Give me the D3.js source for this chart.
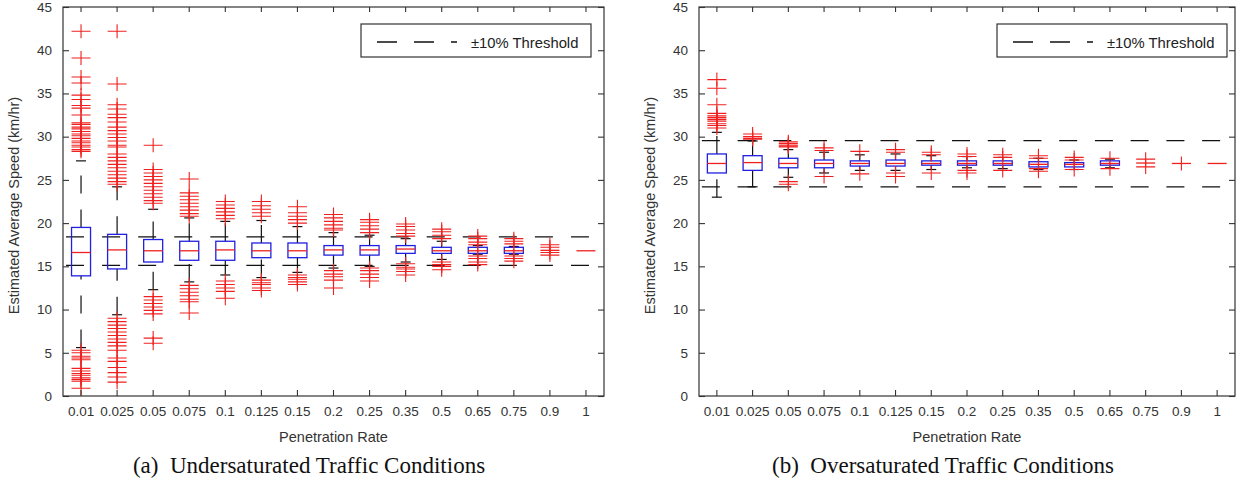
<!DOCTYPE html>
<html><head><meta charset="utf-8">
<script src="https://cdn.jsdelivr.net/npm/d3@7"></script>
<style>body{margin:0;background:#fff}</style>
</head><body>
<svg id="chart" width="1241" height="492"></svg>
<script>
const categories = ["0.01","0.025","0.05","0.075","0.1","0.125","0.15","0.2","0.25","0.35","0.5","0.65","0.75","0.9","1"];
const yTicks = [0,5,10,15,20,25,30,35,40,45];
const legendLabel = "±10% Threshold";
const xTitle = "Penetration Rate";
const yTitle = "Estimated Average Speed (km/hr)";
const captions = ["(a)\u00a0 Undersaturated Traffic Conditions", "(b)\u00a0 Oversaturated Traffic Conditions"];

// (a) Undersaturated
const underQ1     = [13.9,14.7,15.5,15.7,15.7,16.0,16.0,16.3,16.3,16.5,16.5,16.5,16.5,16.85,16.8];
const underMedian = [16.6,16.9,16.8,16.8,16.9,16.8,16.8,16.9,16.9,17.0,16.8,16.8,16.8,16.85,16.8];
const underQ3     = [19.5,18.7,18.1,17.9,17.9,17.7,17.7,17.4,17.4,17.4,17.2,17.2,17.2,16.85,16.8];
const underWhiskerHigh = [27.2,24.2,21.6,20.6,20.2,20.3,19.6,18.9,18.6,18.2,17.9,17.4,17.3,16.85,16.8];
const underWhiskerLow  = [5.6,9.4,12.3,13.2,14.0,13.7,14.3,14.8,15.0,15.5,15.8,16.4,16.4,16.85,16.8];
const underOutliers = [
  [42.2,39.1,36.9,36.2,34.8,34.3,33.6,33.3,32.5,31.6,31.4,31.1,30.9,30.6,30.3,30.1,29.8,29.5,29.3,29.0,28.8,28.5,28.3,5.3,5.0,4.6,4.4,4.2,3.2,2.9,2.6,2.4,2.1,1.9,1.7,0.9],
  [42.2,36.1,33.7,33.2,32.6,32.2,31.7,31.1,30.7,30.3,29.9,29.5,29.0,28.8,28.0,27.6,27.2,26.8,26.4,26.0,25.6,25.2,24.8,24.5,9.0,8.6,8.2,7.8,7.4,7.0,6.6,6.2,5.8,5.3,4.4,4.0,3.3,2.7,2.2,1.6],
  [29.0,26.2,25.8,25.4,25.0,24.6,24.2,23.8,23.4,23.0,22.6,22.3,11.5,11.1,10.7,10.3,9.9,9.5,6.7,6.1],
  [25.1,23.5,23.1,22.7,22.3,21.9,21.5,21.1,20.8,12.8,12.4,12.0,11.6,11.2,10.9,9.6],
  [22.5,22.1,21.7,21.3,20.9,20.5,13.3,12.9,12.5,12.1,11.3],
  [22.5,22.0,21.6,21.2,20.8,13.4,13.1,12.9,12.5,12.2],
  [21.9,21.2,20.8,20.4,20.0,14.0,13.7,13.5,13.2,12.9],
  [21.0,20.6,20.2,19.8,19.4,19.2,14.5,14.1,13.8,13.4,12.5],
  [20.4,20.1,19.7,19.3,18.9,14.8,14.5,14.1,13.7,13.3],
  [19.9,19.6,19.2,18.8,18.5,15.3,14.9,14.7,14.4,14.0],
  [19.3,19.0,18.6,18.2,15.5,15.2,15.0,14.6],
  [18.5,18.2,17.8,17.5,16.2,15.9,15.5,15.2],
  [18.2,17.9,17.6,16.2,15.9,15.6],
  [17.5,17.2,16.6,16.3],
  []
];
const underThreshold = [15.1, 18.4];

// (b) Oversaturated
const overQ1     = [25.8,26.1,26.4,26.4,26.6,26.6,26.7,26.7,26.7,26.5,26.5,26.7,26.95,26.9,26.9];
const overMedian = [26.9,27.0,26.9,26.9,26.9,26.9,26.9,26.9,26.9,26.8,26.8,26.9,26.95,26.9,26.9];
const overQ3     = [28.0,27.8,27.5,27.3,27.2,27.3,27.2,27.2,27.2,27.1,27.0,27.2,26.95,26.9,26.9];
const overWhiskerHigh = [30.5,29.5,28.5,28.2,27.9,28.0,27.8,27.7,27.6,27.5,27.3,27.4,26.95,26.9,26.9];
const overWhiskerLow  = [23.0,24.2,25.3,25.8,26.1,26.1,26.2,26.4,26.3,26.2,26.2,26.4,26.95,26.9,26.9];
const overOutliers = [
  [36.6,35.6,33.7,32.7,32.4,32.2,32.0,31.8,31.5,31.3,31.0],
  [30.3,30.0,29.8,29.7],
  [29.4,29.2,29.0,28.9,28.8,24.8,24.5],
  [28.7,28.4,25.4],
  [28.3,25.7],
  [28.5,28.2,25.8,25.4],
  [28.2,27.9,25.8],
  [28.0,27.7,26.1,25.8],
  [27.9,27.6,26.1],
  [27.8,27.5,26.3,26.0],
  [27.6,27.3,26.2],
  [27.5,26.3],
  [27.4,26.5],
  [26.9],
  []
];
const overThreshold = [24.2, 29.55];

const svg = d3.select("#chart");
svg.append("rect").attr("width",1241).attr("height",492).attr("fill","#fff");

const FONT = "'Liberation Sans', Arial, sans-serif";
const AXIS = "#333";
const BLUE = "#2020e0";
const RED = "#f02020";

function drawPanel(p) {
  const g = svg.append("g");
  const top = 7, bottom = 396;
  const x = d3.scaleBand().domain(categories).range([p.left, p.right]);
  const step = x.step();
  const cx = c => x(c) + x.bandwidth() / 2;
  const y = d3.scaleLinear().domain([0, 45]).range([bottom, top]);
  const bw = 19, cap = 10, hw = 9.5, hh = 7;

  p.threshold.forEach(t => {
    g.append("line").attr("x1", p.left).attr("x2", p.right)
      .attr("y1", y(t)).attr("y2", y(t))
      .attr("stroke", "#111").attr("stroke-width", 1.3)
      .attr("stroke-dasharray", `18 ${step - 18}`)
      .attr("stroke-dashoffset", 15 - step / 2);
  });

  categories.forEach((c, i) => {
    const xc = cx(c);
    const q1 = p.q1[i], q3 = p.q3[i], lo = p.wlo[i], hi = p.whi[i];
    if (hi > q3) {
      g.append("line").attr("x1", xc).attr("x2", xc).attr("y1", y(q3)).attr("y2", y(hi))
        .attr("stroke", "#111").attr("stroke-width", 1.2).attr("stroke-dasharray", "18 16");
      g.append("line").attr("x1", xc - cap/2).attr("x2", xc + cap/2).attr("y1", y(hi)).attr("y2", y(hi))
        .attr("stroke", "#111").attr("stroke-width", 1.2);
    }
    if (lo < q1) {
      g.append("line").attr("x1", xc).attr("x2", xc).attr("y1", y(lo)).attr("y2", y(q1))
        .attr("stroke", "#111").attr("stroke-width", 1.2).attr("stroke-dasharray", "18 16");
      g.append("line").attr("x1", xc - cap/2).attr("x2", xc + cap/2).attr("y1", y(lo)).attr("y2", y(lo))
        .attr("stroke", "#111").attr("stroke-width", 1.2);
    }
    if (q3 > q1) {
      g.append("rect").attr("x", xc - bw/2).attr("y", y(q3)).attr("width", bw)
        .attr("height", y(q1) - y(q3)).attr("fill", "none")
        .attr("stroke", BLUE).attr("stroke-width", 1.3);
    }
    g.append("line").attr("x1", xc - bw/2).attr("x2", xc + bw/2)
      .attr("y1", y(p.med[i])).attr("y2", y(p.med[i]))
      .attr("stroke", RED).attr("stroke-width", 1.3);
    p.out[i].forEach(v => {
      const yy = y(v);
      g.append("path")
        .attr("d", `M${xc - hw},${yy}H${xc + hw}M${xc},${yy - hh}V${yy + hh}`)
        .attr("stroke", RED).attr("stroke-width", 1.1).attr("fill", "none");
    });
  });

  g.append("rect").attr("x", p.left).attr("y", top).attr("width", p.right - p.left)
    .attr("height", bottom - top).attr("fill", "none").attr("stroke", AXIS).attr("stroke-width", 1.2);

  const ax = g.append("g").attr("transform", `translate(0,${bottom})`)
    .call(d3.axisBottom(x).tickSize(-6).tickPadding(10));
  const at = g.append("g").attr("transform", `translate(0,${top})`)
    .call(d3.axisTop(x).tickSize(-5).tickFormat(""));
  const al = g.append("g").attr("transform", `translate(${p.left},0)`)
    .call(d3.axisLeft(y).tickValues(yTicks).tickSize(-6).tickPadding(11));
  const ar = g.append("g").attr("transform", `translate(${p.right},0)`)
    .call(d3.axisRight(y).tickValues(yTicks).tickSize(-6).tickFormat(""));
  [ax, at, al, ar].forEach(a => {
    a.select(".domain").remove();
    a.selectAll("line").attr("stroke", AXIS).attr("stroke-width", 1.1);
    a.selectAll("text").attr("fill", "#333").style("font-family", FONT).style("font-size", "13.5px");
  });

  g.append("text").attr("x", (p.left + p.right) / 2).attr("y", 442)
    .attr("text-anchor", "middle").attr("fill", "#333")
    .style("font-family", FONT).style("font-size", "14.5px").text(xTitle);
  g.append("text").attr("transform", `translate(${p.left - 44},${(top + bottom) / 2 + 4}) rotate(-90)`)
    .attr("text-anchor", "middle").attr("fill", "#333")
    .style("font-family", FONT).style("font-size", "14.5px").text(yTitle);

  const lw = 230, lh = 33, lx = p.right - p.legendRight - lw, ly = 24;
  const lg = g.append("g");
  lg.append("rect").attr("x", lx).attr("y", ly).attr("width", lw).attr("height", lh)
    .attr("fill", "#fff").attr("stroke", AXIS).attr("stroke-width", 1.2);
  lg.append("line").attr("x1", lx + 16).attr("x2", lx + 96).attr("y1", ly + 18).attr("y2", ly + 18)
    .attr("stroke", "#111").attr("stroke-width", 1.3).attr("stroke-dasharray", "20 17");
  lg.append("text").attr("x", lx + 110).attr("y", ly + 23.5).attr("fill", "#222")
    .style("font-family", FONT).style("font-size", "14.8px").text(legendLabel);

  svg.append("text").attr("x", p.captionX).attr("y", 473).attr("text-anchor", "middle")
    .attr("fill", "#111").style("font-family", "'Liberation Serif', 'Times New Roman', serif")
    .style("font-size", "23px").text(p.caption);
}

drawPanel({left: 63, right: 604, threshold: underThreshold, q1: underQ1, med: underMedian, q3: underQ3,
  wlo: underWhiskerLow, whi: underWhiskerHigh, out: underOutliers, legendRight: 13,
  caption: captions[0], captionX: 309});
drawPanel({left: 699, right: 1235, threshold: overThreshold, q1: overQ1, med: overMedian, q3: overQ3,
  wlo: overWhiskerLow, whi: overWhiskerHigh, out: overOutliers, legendRight: 8,
  caption: captions[1], captionX: 943});
</script>
</body></html>
